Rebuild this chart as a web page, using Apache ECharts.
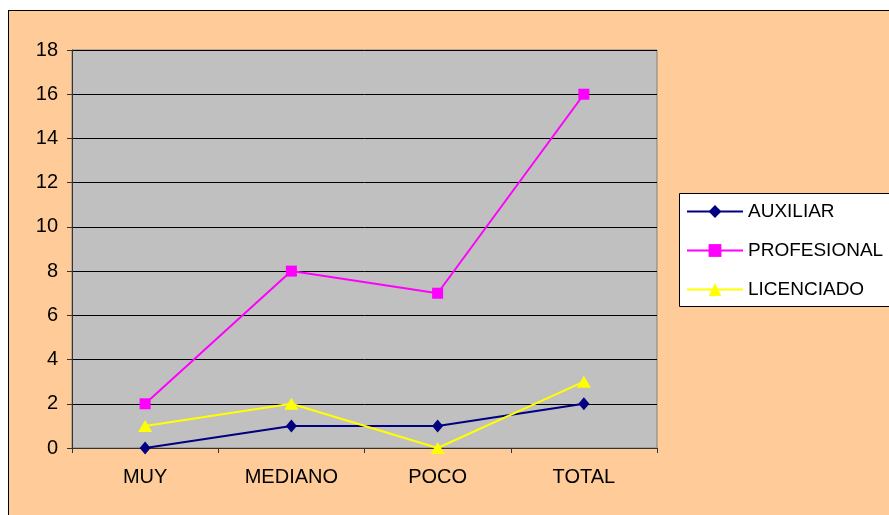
<!DOCTYPE html>
<html><head><meta charset="utf-8">
<script src="https://cdn.jsdelivr.net/npm/echarts@6/dist/echarts.min.js"></script>
<style>
html,body{margin:0;padding:0;background:#fff;}
#bg{position:absolute;left:8px;top:10px;width:900px;height:520px;background:#FFCC99;border-left:1px solid #000;border-top:1px solid #000;}
#c{position:absolute;left:0;top:0;width:889px;height:515px;}
</style></head>
<body>
<div id="bg"></div>
<div id="c"></div>
<script>
const categories = ['MUY','MEDIANO','POCO','TOTAL'];
const auxiliar = [0,1,1,2];
const profesional = [2,8,7,16];
const licenciado = [1,2,0,3];
const seriesNames = ['AUXILIAR','PROFESIONAL','LICENCIADO'];

const chart = echarts.init(document.getElementById('c'), null, {renderer:'canvas'});
const font = 'Liberation Sans, Arial, sans-serif';
chart.setOption({
  animation:false,
  backgroundColor:'transparent',
  graphic:[{type:'rect',left:679,top:193,shape:{width:230,height:113},style:{fill:'#fff',stroke:'#000',lineWidth:1},z:-1}],
  grid:{left:72,top:50,right:232,bottom:67,show:true,backgroundColor:'#C0C0C0',borderColor:'#808080',borderWidth:1},
  legend:{orient:'vertical',left:686,top:202,padding:0,itemWidth:56,itemHeight:16,itemGap:20,itemTextGap:6,
    textStyle:{fontFamily:font,fontSize:19,color:'#000'},
    data:seriesNames},
  xAxis:{type:'category',data:categories,boundaryGap:true,
    axisLine:{lineStyle:{color:'#333',width:1}},
    axisTick:{show:true,length:5,lineStyle:{color:'#333'}},
    axisLabel:{fontFamily:font,fontSize:20,color:'#000',margin:19}},
  yAxis:{type:'value',min:0,max:18,interval:2,
    axisLine:{show:true,lineStyle:{color:'#333',width:1}},
    axisTick:{show:true,length:5,lineStyle:{color:'#333'}},
    splitLine:{lineStyle:{color:'#000',width:1}},
    axisLabel:{fontFamily:font,fontSize:20,color:'#000',margin:14}},
  series:[
    {name:seriesNames[0],type:'line',data:auxiliar,symbol:'diamond',symbolSize:[11,13],
     itemStyle:{color:'#000080'},lineStyle:{color:'#000080',width:2}},
    {name:seriesNames[1],type:'line',data:profesional,symbol:'rect',symbolSize:11,
     itemStyle:{color:'#FF00FF'},lineStyle:{color:'#FF00FF',width:2}},
    {name:seriesNames[2],type:'line',data:licenciado,symbol:'triangle',symbolSize:[14,12],
     itemStyle:{color:'#FFFF00'},lineStyle:{color:'#FFFF00',width:2}}
  ]
});
</script>
</body></html>
